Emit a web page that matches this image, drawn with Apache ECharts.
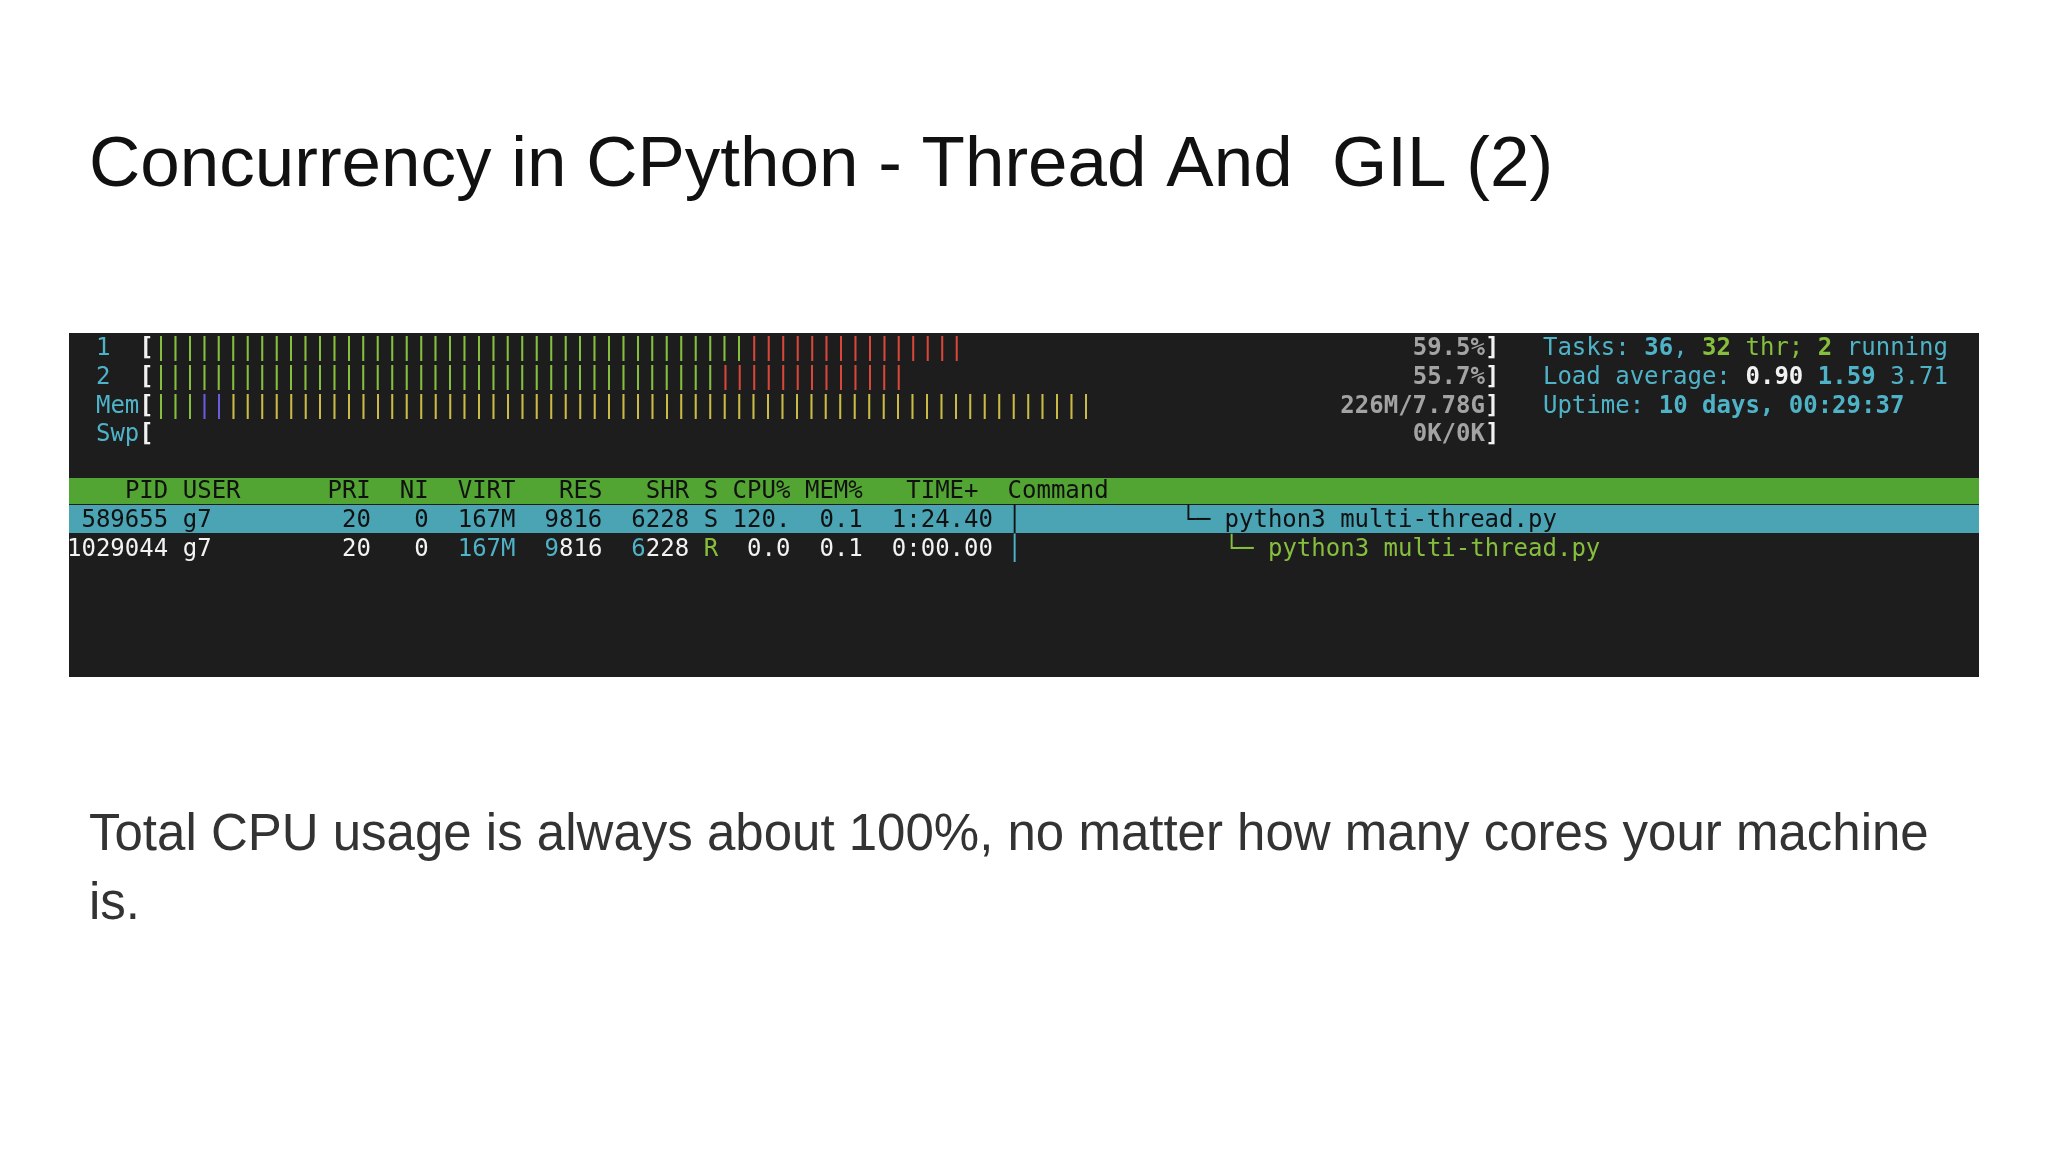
<!DOCTYPE html>
<html>
<head>
<meta charset="utf-8">
<script src="https://cdn.jsdelivr.net/npm/echarts@6/dist/echarts.min.js"></script>
<style>
  html, body { margin: 0; padding: 0; background: #fff; }
  #chart { width: 2048px; height: 1152px; }
</style>
</head>
<body>
<div id="chart"></div>
<script>
  var titleText = 'Concurrency in CPython - Thread And  GIL (2)';
  var captionLines = ['Total CPU usage is always about 100%, no matter how many cores your machine', 'is.'];

  // meter rows: label, bar counts per colour, right-hand reading
  var meterLabels = ['1  ', '2  ', 'Mem', 'Swp'];
  var meterGreen = [41, 39, 3, 0];
  var meterBlue = [0, 0, 2, 0];
  var meterYellow = [0, 0, 60, 0];
  var meterRed = [15, 13, 0, 0];
  var meterReadings = ['59.5%', '55.7%', '226M/7.78G', '0K/0K'];

  var tasks = { total: '36', threads: '32', running: '2' };
  var loadAverage = ['0.90', '1.59', '3.71'];
  var uptime = '10 days, 00:29:37';

  var headerCols = ['PID', 'USER', 'PRI', 'NI', 'VIRT', 'RES', 'SHR', 'S', 'CPU%', 'MEM%', 'TIME+', 'Command'];
  var processRows = [
    ['589655', 'g7', '20', '0', '167M', '9816', '6228', 'S', '120.', '0.1', '1:24.40', 'python3 multi-thread.py'],
    ['1029044', 'g7', '20', '0', '167M', '9816', '6228', 'R', '0.0', '0.1', '0:00.00', 'python3 multi-thread.py']
  ];

  var X0 = 67, CW = 14.47, FONT = 24, MONO = '"DejaVu Sans Mono", monospace';
  var C = {
    bg: '#1d1d1d', cyan: '#4fb3c8', green: '#86bf3d', red: '#d8473a', yellow: '#c9bb45',
    blue: '#6a5ce0', gray: '#a3a3a3', white: '#f2f2f2', headBar: '#52a532', selBar: '#4aa4b4', black: '#111'
  };

  var els = [];
  function txt(col, y, s, color, bold) {
    els.push({
      type: 'text', x: X0 + col * CW, y: y + 3, z: 5,
      style: { text: s, fill: color, font: (bold ? 'bold ' : '') + FONT + 'px ' + MONO, textVerticalAlign: 'middle' }
    });
  }
  function rep(ch, n) { return new Array(n + 1).join(ch); }
  function right(col, y, s, color, bold) { txt(col - s.length + 1, y, s, color, bold); }

  // panel backgrounds
  els.push({ type: 'rect', shape: { x: 69, y: 333, width: 1910, height: 344 }, style: { fill: C.bg }, z: 1 });
  els.push({ type: 'rect', shape: { x: 69, y: 478, width: 1910, height: 26 }, style: { fill: C.headBar }, z: 2 });
  els.push({ type: 'rect', shape: { x: 69, y: 505, width: 1910, height: 28 }, style: { fill: C.selBar }, z: 2 });

  // meters
  var rowY = [346, 375, 404, 432];
  meterLabels.forEach(function (lab, i) {
    var y = rowY[i];
    txt(2, y, lab, C.cyan);
    txt(5, y, '[', C.white, true);
    var col = 6;
    [[meterGreen[i], C.green], [meterBlue[i], C.blue], [meterYellow[i], C.yellow], [meterRed[i], C.red]].forEach(function (p) {
      if (p[0] > 0) { txt(col, y, rep('|', p[0]), p[1]); col += p[0]; }
    });
    right(97, y, meterReadings[i], C.gray, true);
    txt(98, y, ']', C.white, true);
  });

  // summary on the right
  var c = 102;
  txt(c, rowY[0], 'Tasks:', C.cyan); c += 7;
  txt(c, rowY[0], tasks.total, C.cyan, true); c += tasks.total.length;
  txt(c, rowY[0], ',', C.cyan); c += 2;
  txt(c, rowY[0], tasks.threads, C.green, true); c += tasks.threads.length + 1;
  txt(c, rowY[0], 'thr;', C.green); c += 5;
  txt(c, rowY[0], tasks.running, C.green, true); c += tasks.running.length + 1;
  txt(c, rowY[0], 'running', C.cyan);

  c = 102;
  txt(c, rowY[1], 'Load average:', C.cyan); c += 14;
  txt(c, rowY[1], loadAverage[0], C.white, true); c += 5;
  txt(c, rowY[1], loadAverage[1], C.cyan, true); c += 5;
  txt(c, rowY[1], loadAverage[2], C.cyan);

  txt(102, rowY[2], 'Uptime:', C.cyan);
  txt(110, rowY[2], uptime, C.cyan, true);

  // process table: right-aligned end column per field
  var colEnd = [6, 8, 20, 24, 30, 36, 42, 44, 49, 54, 63];
  var headEnd = [6, 8, 20, 24, 30, 36, 42, 44, 49, 54, 62];
  var headY = 489;
  headerCols.forEach(function (h, k) {
    if (k === 1) txt(8, headY, h, C.black);
    else if (k === 11) txt(65, headY, h, C.black);
    else right(headEnd[k], headY, h, C.black);
  });

  var procY = [518, 547];
  processRows.forEach(function (r, i) {
    var y = procY[i];
    var sel = i === 0;
    var base = sel ? C.black : C.white;
    r.forEach(function (v, k) {
      if (k === 11) return;
      if (k === 1) { txt(8, y, v, base); return; }
      var color = base;
      if (!sel && k === 4) color = C.cyan;
      if (!sel && k === 7) color = C.green;
      if (!sel && (k === 5 || k === 6)) {
        right(colEnd[k], y, v.slice(1), C.white);
        right(colEnd[k] - 3, y, v.charAt(0), C.cyan);
        return;
      }
      right(colEnd[k], y, v, color);
    });
    txt(65, y, '\u2502', sel ? C.black : C.cyan);
    var tc = sel ? 77 : 80;
    txt(tc, y, '\u2514\u2500 ' + r[11], sel ? C.black : C.green);
  });

  // slide text
  els.push({ type: 'text', x: 89, y: 166, z: 5, style: { text: titleText, fill: '#111', font: '71px "Liberation Sans", Arial, sans-serif', textVerticalAlign: 'middle' } });
  captionLines.forEach(function (s, i) {
    els.push({ type: 'text', x: 89, y: 836 + i * 69, z: 5, style: { text: s, fill: '#333', font: '51px "Liberation Sans", Arial, sans-serif', textVerticalAlign: 'middle' } });
  });

  var chart = echarts.init(document.getElementById('chart'));
  chart.setOption({ backgroundColor: '#fff', animation: false, graphic: { elements: els } });
</script>
</body>
</html>
